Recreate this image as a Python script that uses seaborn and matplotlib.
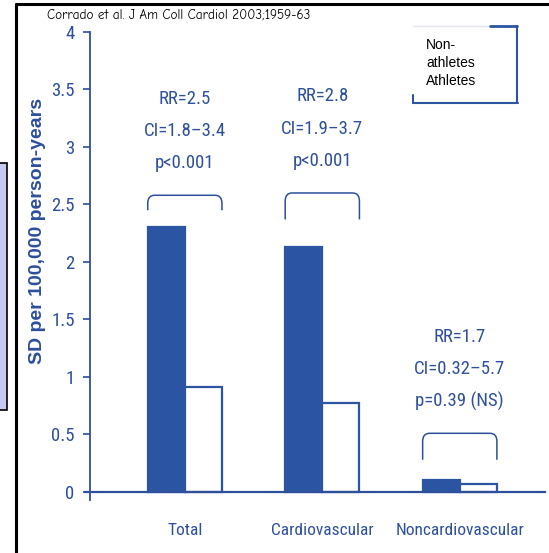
import matplotlib
matplotlib.use("Agg")
import matplotlib.pyplot as plt
from matplotlib import font_manager
from matplotlib.path import Path
from matplotlib.patches import PathPatch, Rectangle
from matplotlib.lines import Line2D
import seaborn as sns
import pandas as pd

categories = ["Total", "Cardiovascular", "Noncardiovascular"]
nonathletes = [2.30, 2.13, 0.10]
athletes = [0.91, 0.77, 0.07]
rr_text = ["RR=2.5", "RR=2.8", "RR=1.7"]
ci_text = ["CI=1.8\u20133.4", "CI=1.9\u20133.7", "CI=0.32\u20135.7"]
p_text = ["p<0.001", "p<0.001", "p=0.39 (NS)"]
yticks = [0, 0.5, 1, 1.5, 2, 2.5, 3, 3.5, 4]
ytick_labels = ["0", "0.5", "1", "1.5", "2", "2.5", "3", "3.5", "4"]
groups = ["Non-athletes", "Athletes"]

BLUE = "#2b55a2"
TXT = "#2d4f9c"

sns.set_theme(style="white")
names = {f.name for f in font_manager.fontManager.ttflist}
narrow = next((n for n in ["Liberation Sans Narrow", "Roboto Condensed", "Roboto",
                           "Liberation Sans"] if n in names), "DejaVu Sans")
plt.rcParams["font.family"] = ["Liberation Sans", "DejaVu Sans"]

df = pd.DataFrame({
    "cause": categories * 2,
    "rate": nonathletes + athletes,
    "group": [groups[0]] * 3 + [groups[1]] * 3,
})

fig = plt.figure(figsize=(5.49, 5.53), dpi=100)
W, H = 549, 553
ax = fig.add_axes([90 / W, 53 / H, (545 - 90) / W, (500 - 32) / H])

sns.barplot(data=df, x="cause", y="rate", hue="group", hue_order=groups,
            palette=[BLUE, "white"], width=0.54, gap=0, ax=ax,
            edgecolor=BLUE, linewidth=1.6, legend=False, saturation=1)

# spines first: moving a spine resets that axis's ticks
for s in ["top", "right"]:
    ax.spines[s].set_visible(False)
ax.spines["left"].set_color(TXT)
ax.spines["left"].set_linewidth(1.3)
ax.spines["bottom"].set_color(TXT)
ax.spines["bottom"].set_linewidth(1.6)
ax.spines["bottom"].set_position(("data", 0))
ax.spines["bottom"].set_bounds(-0.73, 2.62)
ax.spines["bottom"].set_clip_on(False)

ax.set_xlim(-0.69, 2.62)
ax.set_ylim(-0.07, 4.0)
ax.set_yticks(yticks, ytick_labels, fontfamily=narrow, fontsize=13.5, color=TXT)
ax.set_xticks(range(3), categories, fontfamily=narrow, fontsize=12.5, color=TXT)
ax.tick_params(axis="y", direction="out", length=5, width=1.2, color=TXT, pad=6,
               left=True)
ax.tick_params(axis="x", length=0, pad=22)
ax.set_xlabel("")
ax.set_ylabel("SD per 100,000 person-years", fontsize=14, fontweight="bold",
              color=TXT)
ax.yaxis.set_label_coords(-0.097, 0.575)

# significance brackets and statistics over each pair of bars
bracket_top = [2.58, 2.60, 0.51]
bracket_drop = [0.13, 0.23, 0.23]
half = 0.27
for i, cat in enumerate(categories):
    x0, x1 = i - half, i + half
    yt, yb = bracket_top[i], bracket_top[i] - bracket_drop[i]
    dx, dy = 0.05, 0.07
    verts = [(x0, yb), (x0, yt - dy), (x0, yt), (x0 + dx, yt),
             (x1 - dx, yt), (x1, yt), (x1, yt - dy), (x1, yb)]
    codes = [Path.MOVETO, Path.LINETO, Path.CURVE3, Path.CURVE3,
             Path.LINETO, Path.CURVE3, Path.CURVE3, Path.LINETO]
    ax.add_patch(PathPatch(Path(verts, codes), fill=False, edgecolor=TXT, lw=1.1))
    for k, t in enumerate([p_text[i], ci_text[i], rr_text[i]]):
        ax.text(i, yt + 0.28 * (k + 1), t, ha="center", va="center",
                fontfamily=narrow, fontsize=13.5, color=TXT)

# citation
fig.text(47 / W, 1 - 15 / H, "Corrado et al. J Am Coll Cardiol 2003;1959-63",
         fontsize=9.5, color="black", ha="left", va="center",
         fontfamily=["Comic Neue", "Comic Sans MS", "DejaVu Sans"])

# legend box
def fx(x):
    return x / W

def fy(y):
    return 1 - y / H

fig.add_artist(Line2D([fx(413), fx(505)], [fy(26), fy(26)], color="#e4e4f2", lw=1))
fig.add_artist(Line2D([fx(490), fx(517)], [fy(26), fy(26)], color=BLUE, lw=2))
fig.add_artist(Line2D([fx(517), fx(517)], [fy(26), fy(103)], color=BLUE, lw=1.5))
fig.add_artist(Line2D([fx(413), fx(518)], [fy(103), fy(103)], color=BLUE, lw=1.5))
fig.add_artist(Line2D([fx(413), fx(413)], [fy(95), fy(103)], color=BLUE, lw=1.5))
for k, t in enumerate(["Non-", "athletes", "Athletes"]):
    fig.text(fx(426), fy(45 + 18 * k), t, fontsize=10, color="black",
             ha="left", va="center")

# slide frame and the edge of the neighbouring panel
fig.add_artist(Line2D([fx(16), fx(549)], [fy(4), fy(4)], color="black", lw=2.2))
fig.add_artist(Line2D([fx(16), fx(16)], [fy(4), fy(553)], color="black", lw=2.2))
fig.add_artist(Rectangle((fx(-2), fy(410)), fx(9), fy(163) - fy(410),
                         facecolor="#c6caf0", edgecolor="black", lw=1.2,
                         transform=fig.transFigure))

fig.savefig("out.png", dpi=100)
